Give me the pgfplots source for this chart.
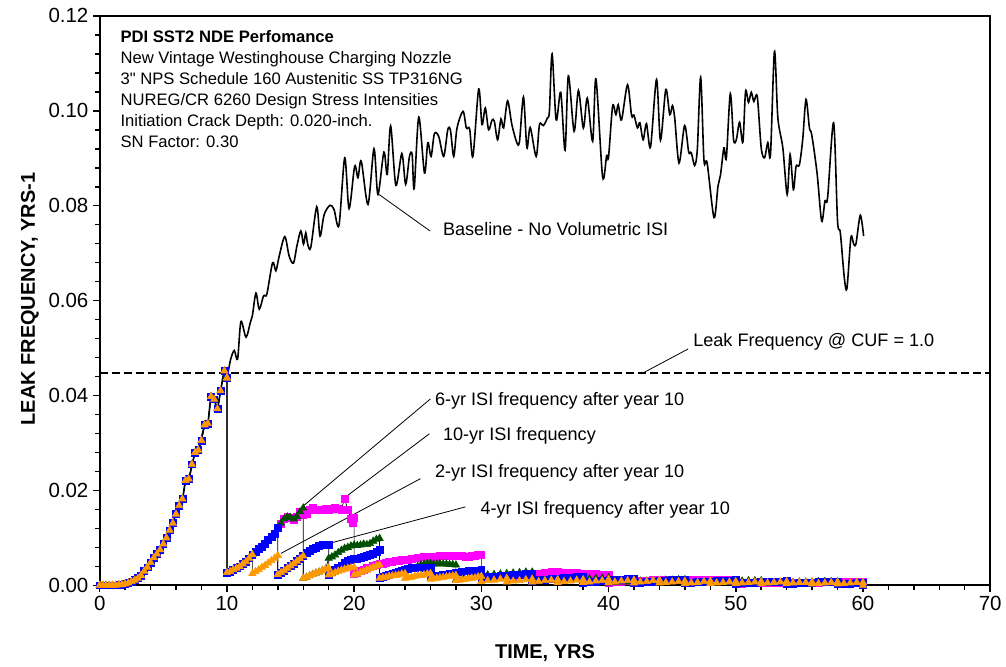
\documentclass[border=0pt]{standalone}
\usepackage{fontspec}
\setmainfont{Liberation Sans}
\usepackage{pgfplots}
\pgfplotsset{compat=1.18}
\usepackage{pgfplotstable}
\definecolor{isimag}{RGB}{255,0,255}
\definecolor{isiblue}{RGB}{0,0,255}
\definecolor{isigreen}{RGB}{0,80,0}
\definecolor{isiorange}{RGB}{255,153,0}

\pgfplotstableread{
t y
0 0
0.25 0
0.5 0
0.75 0
1.0 0
1.25 0
1.5 0.0001
1.75 0.0002
2.0 0.0003
2.25 0.0005
2.5 0.0008
2.75 0.0011
3.0 0.0015
3.25 0.0021
3.5 0.0030
3.75 0.0038
4.0 0.0048
4.25 0.0058
4.5 0.0066
4.75 0.0075
5.0 0.0087
5.25 0.0100
5.5 0.0116
5.75 0.0131
6.0 0.0150
6.25 0.0168
6.5 0.0182
6.75 0.0221
7.0 0.0224
7.25 0.0255
7.5 0.0280
7.75 0.0285
8.0 0.0305
8.25 0.0338
8.5 0.0341
8.75 0.0398
9.0 0.0392
9.25 0.0372
9.5 0.0410
9.8 0.0452
10.0 0.0437
}\tpre

\pgfplotstableread{
t y
0 0
0.5 0
1.0 0
1.5 0.0001
2.0 0.0003
2.5 0.0008
3.0 0.0015
3.5 0.0030
4.0 0.0048
4.5 0.0066
5.0 0.0087
5.5 0.0116
6.0 0.0150
6.5 0.0182
6.75 0.0221
7.0 0.0224
7.5 0.0280
7.75 0.0285
8.25 0.0338
8.5 0.0341
8.75 0.0398
9.0 0.0392
9.25 0.0372
9.5 0.0410
9.8 0.0452
10.0 0.0440
10.3 0.0477
10.58 0.0495
10.84 0.0477
11.1 0.0556
11.5 0.0523
11.84 0.0554
12.0 0.0568
12.28 0.0616
12.54 0.0582
12.88 0.0610
13.14 0.0614
13.59 0.0680
13.85 0.0663
14.11 0.0694
14.55 0.0735
14.89 0.0694
15.23 0.0679
15.5 0.0715
15.81 0.0747
16.02 0.0719
16.2 0.0743
16.35 0.0719
16.59 0.0712
17.06 0.0798
17.32 0.0736
17.64 0.0781
18.1 0.0801
18.42 0.0792
18.81 0.0759
19.26 0.0901
19.6 0.0794
20.04 0.0883
20.3 0.0859
20.56 0.0894
21.09 0.0803
21.56 0.0920
21.87 0.0824
22.34 0.0913
22.6 0.0866
22.87 0.0968
23.28 0.0843
23.75 0.0910
24.05 0.0845
24.35 0.0904
24.56 0.0908
24.72 0.0836
25.08 0.0987
25.53 0.0869
25.79 0.0933
26.05 0.0904
26.31 0.0952
26.65 0.0946
27.04 0.0904
27.36 0.0960
27.57 0.0959
27.83 0.0904
28.09 0.0964
28.56 0.0999
28.82 0.0964
29.08 0.0962
29.34 0.0904
29.79 0.1046
30.05 0.0971
30.31 0.1006
30.57 0.0960
30.83 0.0980
31.02 0.0978
31.28 0.0939
31.54 0.0983
31.75 0.0964
32.06 0.1021
32.4 0.0971
32.79 0.0933
33.0 0.0936
33.31 0.1029
33.58 0.0922
33.84 0.0965
34.31 0.0904
34.57 0.0971
34.88 0.0969
35.19 0.0985
35.35 0.0999
35.56 0.1120
35.88 0.0981
36.24 0.1039
36.58 0.0917
36.84 0.1074
37.29 0.0957
37.63 0.1043
38.02 0.0964
38.33 0.1027
38.75 0.0936
39.01 0.1067
39.53 0.0861
39.85 0.0906
40.0 0.0903
40.32 0.1010
40.58 0.0992
40.76 0.1013
41.02 0.0981
41.49 0.1055
41.81 0.0990
42.0 0.0991
42.27 0.0964
42.46 0.0975
42.72 0.0939
42.98 0.0973
43.3 0.0924
43.77 0.1066
44.08 0.0938
44.5 0.1045
44.81 0.0992
45.02 0.1011
45.2 0.0985
45.54 0.0890
45.98 0.0969
46.3 0.0913
46.5 0.0912
46.77 0.0885
46.98 0.0920
47.24 0.1071
47.5 0.0896
47.75 0.0890
48.29 0.0775
48.6 0.0841
48.8 0.0865
49.07 0.0922
49.26 0.0901
49.57 0.1036
49.83 0.0939
50.05 0.0940
50.3 0.0976
50.56 0.0934
50.77 0.1041
51.0 0.1018
51.22 0.1039
51.42 0.1020
51.69 0.1030
52.0 0.0922
52.26 0.0901
52.52 0.0933
52.73 0.0908
53.04 0.1125
53.31 0.0985
53.7 0.0922
54.04 0.0824
54.27 0.0908
54.53 0.0834
54.74 0.0883
55.0 0.0886
55.26 0.0939
55.52 0.1024
55.79 0.0964
55.97 0.0950
56.39 0.0869
56.75 0.0768
57.01 0.0810
57.22 0.0817
57.69 0.0975
58.0 0.0768
58.22 0.0743
58.53 0.0649
58.74 0.0626
59.05 0.0733
59.27 0.0719
59.45 0.0720
59.79 0.0780
60.05 0.0736
}\tbase

% 10-yr ISI (magenta)
\pgfplotstableread{
t y
10 0.0437
10 0.0027
10.25 0.0029
10.5 0.0033
10.75 0.0036
11 0.0040
11.25 0.0045
11.5 0.0050
11.75 0.0057
12 0.0065
12.25 0.0070
12.5 0.0076
12.75 0.0082
13 0.0088
13.25 0.0095
13.5 0.0102
13.75 0.0109
14 0.0121
14.25 0.0130
14.5 0.0140
14.75 0.0144
15 0.0142
15.25 0.0138
15.5 0.0145
15.75 0.0155
16 0.0148
16.25 0.0151
16.5 0.0160
16.75 0.0163
17 0.0160
17.25 0.0158
17.5 0.0159
17.75 0.0161
18 0.0160
18.25 0.0162
18.5 0.0163
18.75 0.0161
19 0.0160
19.25 0.0183
19.5 0.0159
19.75 0.0141
19.9 0.0131
20 0.0142
20 0.0025
20.25 0.0027
20.5 0.0030
20.75 0.0033
21 0.0036
21.25 0.0038
21.5 0.0041
21.75 0.0043
22 0.0045
22.25 0.0046
22.5 0.0047
22.75 0.0049
23 0.0050
23.25 0.0051
23.5 0.0052
23.75 0.0053
24 0.0053
24.25 0.0054
24.5 0.0055
24.75 0.0057
25 0.0058
25.25 0.0059
25.5 0.0060
25.75 0.0060
26 0.0060
26.25 0.0061
26.5 0.0061
26.75 0.0062
27 0.0062
27.25 0.0062
27.5 0.0062
27.75 0.0062
28 0.0062
28.25 0.0063
28.5 0.0062
28.75 0.0061
29 0.0061
29.25 0.0062
29.5 0.0063
29.75 0.0065
30 0.0064
30 0.0015
30.5 0.0017
31 0.0018
31.5 0.0019
32 0.0020
32.5 0.0021
33 0.0022
33.5 0.0023
34 0.0023
34.5 0.0025
35 0.0027
35.5 0.0029
36 0.0028
36.5 0.0027
37 0.0026
37.5 0.0026
38 0.0025
38.5 0.0025
39 0.0024
39.5 0.0023
40 0.0022
40 0.0006
40.5 0.0007
41 0.0008
41.5 0.0009
42 0.0009
42.5 0.0010
43 0.0010
43.5 0.0011
44 0.0011
44.5 0.0011
45 0.0012
45.5 0.0012
46 0.0012
46.5 0.0012
47 0.0012
47.5 0.0012
48 0.0012
48.5 0.0012
49 0.0012
49.5 0.0012
50 0.0012
50 0.0004
50.5 0.0004
51 0.0005
51.5 0.0005
52 0.0005
52.5 0.0005
53 0.0006
53.5 0.0006
54 0.0006
54.5 0.0006
55 0.0006
55.5 0.0006
56 0.0006
56.5 0.0006
57 0.0007
57.5 0.0007
58 0.0007
58.5 0.0007
59 0.0007
59.5 0.0007
60 0.0007
60 0
}\tmag

% 6-yr ISI after year 10 (green)
\pgfplotstableread{
t y
10 0.0437
10 0.0027
10.25 0.0029
10.5 0.0033
10.75 0.0036
11 0.0040
11.25 0.0045
11.5 0.0050
11.75 0.0057
12 0.0065
12.25 0.0070
12.5 0.0076
12.75 0.0082
13 0.0088
13.25 0.0095
13.5 0.0102
13.75 0.0109
14 0.0121
14.25 0.0131
14.5 0.0140
14.75 0.0144
15 0.0143
15.25 0.0140
15.5 0.0145
15.75 0.0155
16 0.0163
16 0.0015
16.25 0.0017
16.5 0.0020
16.75 0.0023
17 0.0026
17.25 0.0028
17.5 0.0031
17.75 0.0034
18 0.0057
18.25 0.0060
18.5 0.0064
18.75 0.0069
19 0.0074
19.25 0.0078
19.5 0.0080
19.75 0.0083
20 0.0085
20.25 0.0084
20.5 0.0085
20.75 0.0087
21 0.0086
21.25 0.0088
21.5 0.0093
21.75 0.0097
22 0.0099
22 0.0015
22.5 0.0019
23 0.0023
23.5 0.0027
24 0.0031
24.5 0.0035
25 0.0040
25.25 0.0043
25.5 0.0045
25.75 0.0046
26 0.0046
26.25 0.0045
26.5 0.0045
26.75 0.0046
27 0.0045
27.25 0.0045
27.5 0.0044
27.75 0.0044
28 0.0043
28 0.0012
28.5 0.0014
29 0.0016
29.5 0.0019
30 0.0021
30.5 0.0022
31 0.0023
31.5 0.0024
32 0.0025
32.5 0.0026
33 0.0027
33.5 0.0028
34 0.0028
34 0.0007
34.5 0.0008
35 0.0009
35.5 0.0010
36 0.0011
36.5 0.0011
37 0.0012
37.5 0.0013
38 0.0013
38.5 0.0014
39 0.0015
39.5 0.0015
40 0.0016
40 0.0005
40.5 0.0006
41 0.0007
41.5 0.0007
42 0.0008
42.5 0.0009
43 0.0009
43.5 0.0010
44 0.0010
44.5 0.0011
45 0.0011
45.5 0.0012
46 0.0012
46 0.0005
46.5 0.0005
47 0.0006
47.5 0.0007
48 0.0007
48.5 0.0008
49 0.0008
49.5 0.0009
50 0.0009
50.5 0.0009
51 0.0010
51.5 0.0010
52 0.0010
52 0.0004
52.5 0.0004
53 0.0005
53.5 0.0005
54 0.0006
54.5 0.0006
55 0.0007
55.5 0.0007
56 0.0007
56.5 0.0008
57 0.0008
57.5 0.0008
58 0.0008
58 0.0003
58.5 0.0003
59 0.0004
59.5 0.0004
60 0.0004
60 0
}\tgrn

% 4-yr ISI after year 10 (blue)
\pgfplotstableread{
t y
10 0.0437
10 0.0027
10.25 0.0029
10.5 0.0033
10.75 0.0036
11 0.0040
11.25 0.0045
11.5 0.0050
11.75 0.0057
12 0.0065
12.25 0.0070
12.5 0.0076
12.75 0.0082
13 0.0088
13.25 0.0095
13.5 0.0102
13.75 0.0109
14 0.0121
14 0.0023
14.25 0.0027
14.5 0.0031
14.75 0.0036
15 0.0041
15.25 0.0046
15.5 0.0051
15.75 0.0056
16 0.0062
16.25 0.0069
16.5 0.0073
16.75 0.0077
17 0.0080
17.25 0.0083
17.5 0.0085
17.75 0.0085
18 0.0086
18 0.0023
18.25 0.0028
18.5 0.0033
18.75 0.0038
19 0.0042
19.25 0.0047
19.5 0.0051
19.75 0.0053
20 0.0055
20.25 0.0056
20.5 0.0058
20.75 0.0060
21 0.0062
21.25 0.0064
21.5 0.0067
21.75 0.0070
22 0.0074
22 0.0015
22.25 0.0017
22.5 0.0020
22.75 0.0022
23 0.0024
23.25 0.0026
23.5 0.0029
23.75 0.0031
24 0.0033
24.25 0.0034
24.5 0.0036
24.75 0.0037
25 0.0038
25.25 0.0038
25.5 0.0037
25.75 0.0037
26 0.0037
26 0.0018
26.5 0.0020
27 0.0023
27.5 0.0025
28 0.0027
28.5 0.0028
29 0.0030
29.5 0.0031
30 0.0032
30 0.0016
30.5 0.0018
31 0.0019
31.5 0.0020
32 0.0021
32.5 0.0022
33 0.0023
33.5 0.0024
34 0.0025
34 0.0010
34.5 0.0011
35 0.0012
35.5 0.0013
36 0.0014
36.5 0.0015
37 0.0016
37.5 0.0017
38 0.0018
38 0.0006
38.5 0.0007
39 0.0008
39.5 0.0009
40 0.0010
40.5 0.0011
41 0.0012
41.5 0.0013
42 0.0014
42 0.0005
42.5 0.0006
43 0.0007
43.5 0.0008
44 0.0009
44.5 0.0010
45 0.0011
45.5 0.0011
46 0.0012
46 0.0005
46.5 0.0006
47 0.0007
47.5 0.0007
48 0.0008
48.5 0.0009
49 0.0010
49.5 0.0010
50 0.0011
50 0.0004
50.5 0.0005
51 0.0006
51.5 0.0006
52 0.0007
52.5 0.0007
53 0.0008
53.5 0.0008
54 0.0009
54 0.0004
54.5 0.0004
55 0.0005
55.5 0.0006
56 0.0006
56.5 0.0007
57 0.0007
57.5 0.0008
58 0.0008
58 0.0003
58.5 0.0004
59 0.0004
59.5 0.0005
60 0.0005
60 0
}\tblu

% 2-yr ISI after year 10 (orange)
\pgfplotstableread{
t y
10 0.0437
10 0.0027
10.25 0.0029
10.5 0.0033
10.75 0.0036
11 0.0040
11.25 0.0045
11.5 0.0050
11.75 0.0057
12 0.0065
12 0.0025
12.25 0.0029
12.5 0.0033
12.75 0.0038
13 0.0042
13.25 0.0047
13.5 0.0052
13.75 0.0057
14 0.0063
14 0.0023
14.25 0.0027
14.5 0.0031
14.75 0.0036
15 0.0041
15.25 0.0046
15.5 0.0051
15.75 0.0056
16 0.0062
16 0.0015
16.25 0.0017
16.5 0.0020
16.75 0.0023
17 0.0026
17.25 0.0028
17.5 0.0031
17.75 0.0034
18 0.0036
18 0.0022
18.25 0.0024
18.5 0.0027
18.75 0.0030
19 0.0032
19.25 0.0034
19.5 0.0036
19.75 0.0037
20 0.0038
20 0.0022
20.25 0.0024
20.5 0.0027
20.75 0.0030
21 0.0032
21.25 0.0035
21.5 0.0038
21.75 0.0041
22 0.0043
22 0.0015
22.25 0.0016
22.5 0.0017
22.75 0.0019
23 0.0020
23.25 0.0021
23.5 0.0022
23.75 0.0024
24 0.0025
24 0.0015
24.25 0.0016
24.5 0.0017
24.75 0.0019
25 0.0020
25.25 0.0021
25.5 0.0022
25.75 0.0024
26 0.0025
26 0.0013
26.25 0.0014
26.5 0.0015
26.75 0.0016
27 0.0017
27.25 0.0018
27.5 0.0019
27.75 0.0020
28 0.0021
28 0.0010
28.25 0.0011
28.5 0.0012
28.75 0.0013
29 0.0014
29.25 0.0015
29.5 0.0016
29.75 0.0018
30 0.0019
30 0.0008
30.5 0.0010
31 0.0011
31.5 0.0013
32 0.0015
32 0.0007
32.5 0.0009
33 0.0010
33.5 0.0012
34 0.0013
34 0.0007
34.5 0.0008
35 0.0010
35.5 0.0011
36 0.0012
36 0.0006
36.5 0.0008
37 0.0009
37.5 0.0011
38 0.0012
38 0.0006
38.5 0.0007
39 0.0009
39.5 0.0010
40 0.0012
40 0.0006
40.5 0.0007
41 0.0009
41.5 0.0010
42 0.0011
42 0.0005
42.5 0.0007
43 0.0008
43.5 0.0010
44 0.0011
44 0.0005
44.5 0.0006
45 0.0007
45.5 0.0008
46 0.0009
46 0.0004
46.5 0.0005
47 0.0006
47.5 0.0008
48 0.0009
48 0.0004
48.5 0.0005
49 0.0006
49.5 0.0007
50 0.0008
50 0.0004
50.5 0.0005
51 0.0006
51.5 0.0007
52 0.0008
52 0.0004
52.5 0.0005
53 0.0006
53.5 0.0007
54 0.0008
54 0.0004
54.5 0.0005
55 0.0006
55.5 0.0006
56 0.0007
56 0.0003
56.5 0.0004
57 0.0005
57.5 0.0006
58 0.0007
58 0.0003
58.5 0.0004
59 0.0005
59.5 0.0006
60 0.0006
60 0
}\torg

\pgfplotsset{
  isi/.style={black, line width=0.5pt, mark size=2.6pt},
}

\begin{document}
\begin{tikzpicture}
\begin{axis}[
  at={(0,0)}, anchor=south west,
  scale only axis, width=669.75pt, height=428.25pt,
  xmin=0, xmax=70, ymin=0, ymax=0.12,
  xtick={0,10,...,70}, ytick={0,0.02,0.04,0.06,0.08,0.1,0.12},
  minor x tick num=4, minor y tick num=4,
  xtick pos=left, ytick pos=left,
  tick align=outside,
  major tick length=5pt, minor tick length=3.5pt,
  every tick/.style={black, line width=1.1pt},
  axis line style={line width=1.5pt},
  tick label style={font=\fontsize{15.4}{18}\selectfont},
  /pgf/number format/assume math mode=true,
  yticklabel={\pgfmathprintnumber[fixed, fixed zerofill, precision=2]{\tick}},
  xticklabel={\pgfmathprintnumber[fixed, precision=0]{\tick}},
  scaled y ticks=false,
  xlabel={TIME, YRS},
  ylabel={LEAK FREQUENCY, YRS-1},
  label style={font=\fontsize{15}{18}\selectfont\bfseries},
  xlabel style={at={([yshift=-51pt]axis description cs:0.5,0)}, anchor=center},
  ylabel style={at={([xshift=-52.5pt]axis description cs:0,0.503)}, anchor=center},
  clip=false,
]
% CUF line
\addplot[black, line width=1.5pt, dash pattern=on 6pt off 3pt] coordinates {(0,0.0447) (70,0.0447)};
% baseline
\addplot[black, line width=1.2pt, smooth, tension=0.5] table {\tbase};
% ISI series
\addplot[isi, mark=square*, mark options={draw=isimag, fill=isimag}] table {\tpre};
\addplot[isi, mark=square*, mark options={draw=isimag, fill=isimag}] table {\tmag};
\addplot[isi, mark=triangle*, mark size=3.1pt, mark options={draw=isigreen, fill=isigreen}] table {\tpre};
\addplot[isi, mark=triangle*, mark size=3.1pt, mark options={draw=isigreen, fill=isigreen}] table {\tgrn};
\addplot[isi, mark=square*, mark options={draw=isiblue, fill=isiblue}] table {\tpre};
\addplot[isi, mark=square*, mark options={draw=isiblue, fill=isiblue}] table {\tblu};
\addplot[isi, mark=triangle*, mark size=3.1pt, mark options={draw=isiorange, fill=isiorange}] table {\tpre};
\addplot[isi, mark=triangle*, mark size=3.1pt, mark options={draw=isiorange, fill=isiorange}] table {\torg};

% header text
\begin{scope}[every node/.style={anchor=base west, inner sep=0pt, font=\fontsize{12.5}{15}\selectfont}]
\node at (axis cs:1.62,0.11433) {\textbf{PDI SST2 NDE Perfomance}};
\node at (axis cs:1.62,0.10990) {New Vintage Westinghouse Charging Nozzle};
\node at (axis cs:1.62,0.10549) {3\textquotedbl{} NPS Schedule 160 Austenitic SS TP316NG};
\node at (axis cs:1.62,0.10109) {NUREG/CR 6260 Design Stress Intensities};
\node at (axis cs:1.62,0.09668) {Initiation Crack Depth: 0.020-inch.};
\node at (axis cs:1.62,0.09227) {SN Factor: 0.30};
\end{scope}

% annotations
\begin{scope}[every node/.style={anchor=base west, inner sep=0pt, font=\fontsize{13.6}{16}\selectfont}]
\node at (axis cs:26.97,0.07367) {Baseline - No Volumetric ISI};
\node at (axis cs:46.64,0.05034) {Leak Frequency @ CUF = 1.0};
\node at (axis cs:26.34,0.03794) {6-yr ISI frequency after year 10};
\node at (axis cs:26.97,0.03058) {10-yr ISI frequency};
\node at (axis cs:26.34,0.02280) {2-yr ISI frequency after year 10};
\node at (axis cs:29.92,0.01503) {4-yr ISI frequency after year 10};
\end{scope}
\draw[black, line width=0.6pt] (axis cs:21.95,0.08239) -- (axis cs:25.97,0.07468);
\draw[black, line width=0.6pt] (axis cs:42.57,0.04456) -- (axis cs:46.25,0.04981);
\draw[black, line width=0.6pt] (axis cs:16.07,0.01688) -- (axis cs:26.0,0.0393);
\draw[black, line width=0.6pt] (axis cs:19.34,0.01864) -- (axis cs:25.92,0.03195);
\draw[black, line width=0.6pt] (axis cs:14.24,0.00673) -- (axis cs:25.22,0.02249);
\draw[black, line width=0.6pt] (axis cs:18.03,0.00883) -- (axis cs:28.75,0.01654);
\end{axis}
\path (-75pt,-58.5pt) rectangle (679.5pt,440.25pt);
\end{tikzpicture}
\end{document}
